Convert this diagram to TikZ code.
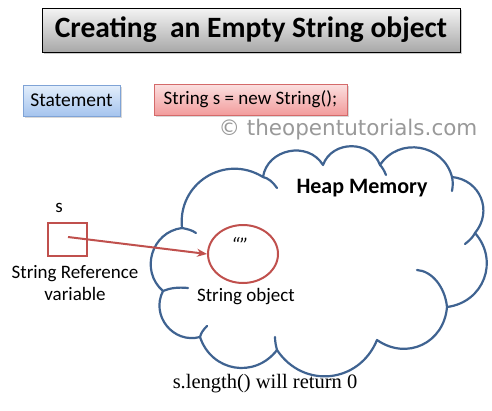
\documentclass[tikz,border=0pt]{standalone}
\usepackage{fontspec}
\setmainfont{Carlito}
\newfontfamily\wmfont{DejaVu Sans}
\newfontfamily\seriffont{Liberation Serif}
\usetikzlibrary{shapes.geometric,shadows,arrows.meta}
\definecolor{cloudblue}{HTML}{3F6391}
\definecolor{redline}{HTML}{C0504D}
\definecolor{bluetop}{HTML}{E3EEFB}
\definecolor{bluebot}{HTML}{A5C4EE}
\definecolor{bluebd}{HTML}{7FA3D6}
\definecolor{pinktop}{HTML}{FBE0E0}
\definecolor{pinkbot}{HTML}{F29C9C}
\definecolor{pinkbd}{HTML}{D46A6A}
\definecolor{graytop}{HTML}{F4F4F4}
\definecolor{graybot}{HTML}{A8A8A8}
\newcommand{\fs}[1]{\fontsize{#1}{#1}\selectfont}
\tikzset{
  titlebox/.style={draw=black, line width=0.9pt, top color=graytop, bottom color=graybot,
    drop shadow={shadow xshift=2pt, shadow yshift=-2pt, opacity=0.4}},
  bluebox/.style={draw=bluebd, line width=0.7pt, top color=bluetop, bottom color=bluebot,
    drop shadow={shadow xshift=1.5pt, shadow yshift=-1.5pt, opacity=0.3}},
  pinkbox/.style={draw=pinkbd, line width=0.7pt, top color=pinktop, bottom color=pinkbot,
    drop shadow={shadow xshift=1.5pt, shadow yshift=-1.5pt, opacity=0.3}},
  lbl/.style={inner sep=0pt, text=black},
  refbox/.style={draw=redline, line width=2pt, minimum width=39pt, minimum height=33pt, inner sep=0pt},
  objell/.style={draw=redline, line width=2pt, ellipse, minimum width=70pt, minimum height=58pt, inner sep=0pt},
  cloudline/.style={draw=cloudblue, line width=2.2pt, line join=round, line cap=round},
  refarrow/.style={draw=redline, line width=2pt, -{Stealth[length=10pt,width=8pt]}},
  puff/.style={bend right=#1, looseness=1.2},
}
\begin{document}
\begin{tikzpicture}[x=1pt,y=-1pt]
\useasboundingbox (0,0) rectangle (492,410);
\fill[white] (0,0) rectangle (492,410);
% title
\node[titlebox, minimum width=418pt, minimum height=44pt, inner sep=0pt] (title) at (251,30)
  {\fs{29.5}\bfseries Creating\ \ an Empty String object};
% statement
\node[bluebox, minimum width=97pt, minimum height=31pt, inner sep=0pt] (stmt) at (71.5,100.5)
  {\fs{19.5}Statement};
\node[pinkbox, minimum width=193pt, minimum height=31pt, inner sep=0pt] (code) at (250.5,99.5)
  {\fs{19}String s = new String();};
\node[lbl, text=black!40] (wm) at (348,130) {\wmfont\fs{21.5}© theopentutorials.com};
% cloud
\coordinate (A) at (182,228);
\coordinate (B) at (163,291);
\coordinate (C) at (200,337);
\coordinate (D) at (277,350);
\coordinate (E) at (377,340);
\coordinate (F) at (447,307);
\coordinate (G) at (475,233);
\coordinate (H) at (452,177);
\coordinate (I) at (380,165);
\coordinate (J) at (323,165);
\coordinate (K) at (263,177);
\draw[cloudline] (A) to[puff=66] (B) to[puff=66] (C) to[puff=62] (D)
  to[puff=62] (E) to[puff=60] (F) to[puff=62] (G) to[puff=62] (H)
  to[puff=66] (I) to[puff=70] (J) to[puff=70] (K) to[puff=64] (A);
% inner hooks
\draw[cloudline] (K) .. controls (268,178) and (273,182) .. (277,188);
\draw[cloudline] (A) .. controls (187,229) and (192,230) .. (196,233);
\draw[cloudline] (B) .. controls (170,288) and (178,287) .. (188,288);
\draw[cloudline] (C) .. controls (201,333) and (203,330) .. (207,326);
\draw[cloudline] (D) .. controls (276,346) and (275,342) .. (275,337);
\draw[cloudline] (F) .. controls (445,287) and (432,271) .. (417,270);
\draw[cloudline] (G) .. controls (473,237) and (470,240) .. (465,244);
\draw[cloudline] (H) .. controls (453,181) and (453,186) .. (452,191);
\draw[cloudline] (I) .. controls (382,167) and (384,170) .. (386,175);
\node[lbl] (heapt) at (362,188) {\fs{22}\bfseries Heap Memory};
% object
\node[objell] (obj) at (243,254) {};
\node[lbl] (quotes) at (240,245) {\fs{21}\itshape “”};
\node[lbl] (objt) at (246,297) {\fs{19}String object};
% reference
\node[refbox] (ref) at (67.5,239.5) {};
\node[lbl] (s) at (59,208) {\fs{19}s};
\node[lbl, align=center] (reft) at (75,283) {\fs{19}String Reference\\[4pt]\fs{19}variable};
\coordinate (refc) at (68,237);
\draw[refarrow] (refc) -- (obj.west);
% bottom
\node[lbl] (bottom) at (265,384) {\seriffont\fs{20.5}s.length() will return 0};
\end{tikzpicture}
\end{document}
